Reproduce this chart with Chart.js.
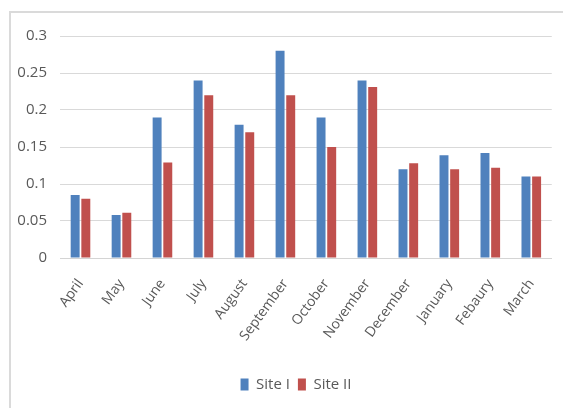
<!DOCTYPE html>
<html>
<head>
<meta charset="utf-8">
<script src="https://cdn.jsdelivr.net/npm/chart.js@4/dist/chart.umd.min.js"></script>
<style>
    html, body { margin: 0; padding: 0; background: #fff; overflow: hidden; }
    #wrap { position: relative; width: 563px; height: 408px; }
    #frame {
        position: absolute; left: 9px; top: 11px; width: 600px; height: 500px;
        border-left: 2px solid #dadada; border-top: 2px solid #dadada;
    }
    #monthly { position: absolute; left: 0; top: 0; }
</style>
</head>
<body>
<div id="wrap">
    <div id="frame"></div>
    <canvas id="monthly" width="563" height="408"></canvas>
</div>
<script>
const months = ['April', 'May', 'June', 'July', 'August', 'September', 'October',
    'November', 'December', 'January', 'Febaury', 'March'];
const siteOne = [0.085, 0.058, 0.19, 0.24, 0.18, 0.28, 0.19, 0.24, 0.12, 0.139, 0.142, 0.11];
const siteTwo = [0.08, 0.061, 0.129, 0.22, 0.17, 0.22, 0.15, 0.231, 0.128, 0.12, 0.122, 0.11];
const yTicks = [0, 0.05, 0.1, 0.15, 0.2, 0.25, 0.3];

const labelFont = "'Open Sans', 'Noto Sans', sans-serif";
const textGrey = '#595959';

// nudge the legend so it is centred under the plot area rather than the whole canvas
const legendShift = {
    id: 'legendShift',
    afterLayout: function (chart) {
        chart.legend.left += 32;
    }
};

function createMonthlyChart() {
    let ctx = document.getElementById('monthly').getContext('2d');

    new Chart(ctx, {
        type: 'bar',
        data: {
            labels: months,
            datasets: [{
                label: 'Site I',
                backgroundColor: '#4f81bd',
                data: siteOne
            }, {
                label: 'Site II',
                backgroundColor: '#c0504d',
                data: siteTwo
            }]
        },
        plugins: [legendShift],
        options: {
            responsive: false,
            animation: false,
            categoryPercentage: 0.52,
            barPercentage: 0.84,
            layout: {
                padding: { top: 36, right: 3, bottom: 6, left: 0 }
            },
            scales: {
                x: {
                    grid: { display: false, drawTicks: false },
                    border: { color: '#d4d4d4' },
                    ticks: {
                        color: textGrey,
                        font: { family: labelFont, size: 14 },
                        minRotation: 54,
                        maxRotation: 54,
                        padding: 18,
                        autoSkip: false
                    },
                    afterFit: function (scale) { scale.height = 111; }
                },
                y: {
                    min: 0,
                    max: 0.3,
                    grid: { color: '#d9d9d9', drawTicks: false },
                    border: { display: false },
                    afterBuildTicks: function (scale) {
                        scale.ticks = yTicks.map(function (v) { return { value: v }; });
                    },
                    ticks: {
                        color: textGrey,
                        font: { family: labelFont, size: 15 },
                        padding: 13,
                        callback: function (value) { return String(Math.round(value * 100) / 100); }
                    },
                    afterFit: function (scale) { scale.width = 60; }
                }
            },
            plugins: {
                legend: {
                    position: 'bottom',
                    labels: {
                        color: textGrey,
                        font: { family: labelFont, size: 15 },
                        boxWidth: 8,
                        boxHeight: 12,
                        padding: 8
                    }
                },
                tooltip: { enabled: false }
            }
        }
    });
}

createMonthlyChart();
</script>
</body>
</html>
